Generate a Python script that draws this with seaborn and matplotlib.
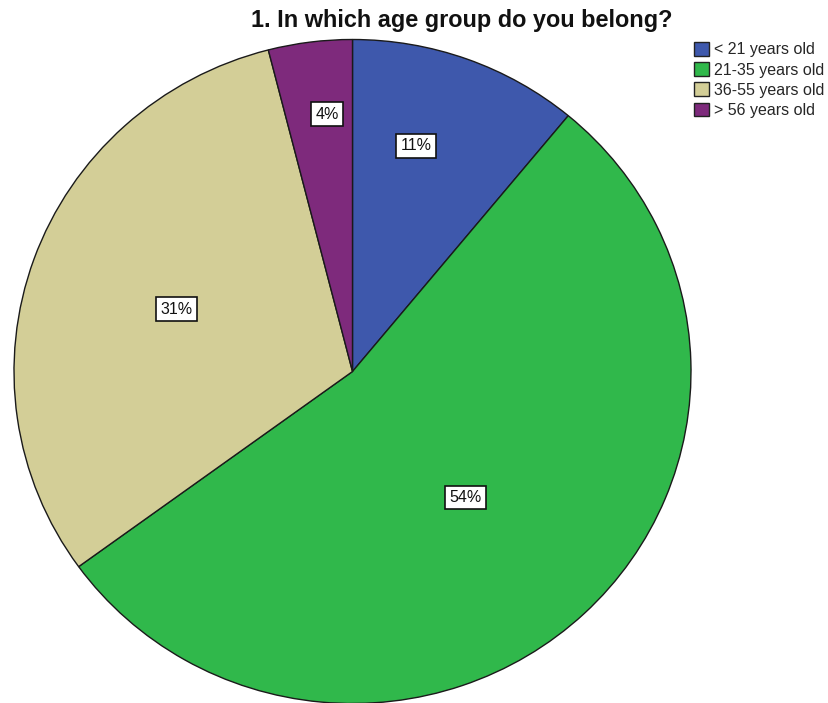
import matplotlib
matplotlib.use("Agg")
import matplotlib.pyplot as plt
import matplotlib.patches as mpatches
import numpy as np
import seaborn as sns

# ---- data ----
categories = ["< 21 years old", "21-35 years old", "36-55 years old", "> 56 years old"]
percentages = [11, 54, 31, 4]
title = "1. In which age group do you belong?"

# ---- style / layout ----
sns.set_theme(style="white")
plt.rcParams["font.family"] = ["Liberation Sans", "DejaVu Sans"]
colors = sns.color_palette(["#3E58AC", "#30B84B", "#D3CE97", "#7E2A7C"])
label_radius = [0.705, 0.505, 0.553, 0.779]   # radial position of each % box
label_frac = [0.39, 0.51, 0.50, 0.615]        # angular position inside each wedge

W, H = 829, 703
fig = plt.figure(figsize=(W / 100, H / 100), dpi=100)
cx, cy, rx, ry = 352.5, 371.5, 338.5, 332.0
ax = fig.add_axes([(cx - rx) / W, 1 - (cy + ry) / H, 2 * rx / W, 2 * ry / H])

wedges, _ = ax.pie(
    percentages,
    colors=colors,
    startangle=90,
    counterclock=False,
    radius=1.0,
    wedgeprops=dict(edgecolor="#1a1a1a", linewidth=1.0),
)
ax.set_xlim(-1.0, 1.0)
ax.set_ylim(-1.0, 1.0)
ax.set_aspect("auto")
ax.axis("off")

total = float(sum(percentages))
cum = 0.0
for p, r, f in zip(percentages, label_radius, label_frac):
    a0 = 90 - 360 * cum / total
    a1 = 90 - 360 * (cum + p) / total
    cum += p
    ang = np.deg2rad(a0 + f * (a1 - a0))
    ax.text(r * np.cos(ang), r * np.sin(ang), f"{p}%", ha="center", va="center",
            fontsize=11.5, color="#111111",
            bbox=dict(boxstyle="square,pad=0.27", facecolor="white", edgecolor="#111111", linewidth=1.2))

fig.text(462 / W, 1 - 21 / H, title, ha="center", va="center",
         fontsize=16.9, fontweight="bold", color="#111111")

handles = [mpatches.Patch(facecolor=c, edgecolor="#222222", linewidth=1.0) for c in colors]
fig.legend(handles, categories, loc="upper left", bbox_to_anchor=(694 / W, 1 - 42 / H),
           frameon=False, fontsize=11.5, handlelength=0.95, handleheight=0.95,
           handletextpad=0.3, labelspacing=0.3, borderpad=0, borderaxespad=0)

fig.savefig("out.png", dpi=100)
